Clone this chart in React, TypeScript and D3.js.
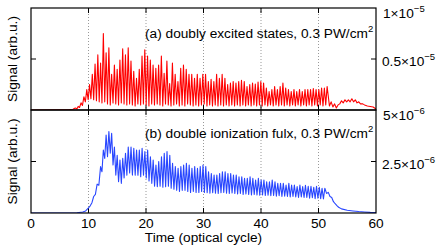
import React from "react";
import * as d3 from "d3";

// values in units of 1e-6 (arb. u.)
const redOnset: [number, number][] = [
  [0, 0], [5, 0.01], [6.5, 0.03], [7.3, 0.08], [7.7, 0.2], [8.0, 0.12], [8.2, 0.35],
  [8.45, 0.25], [8.7, 0.7], [8.95, 0.45], [9.2, 1.3], [9.45, 0.8],
];
const redPeaks = [
  2.0, 2.5, 3.5, 4.5, 5.4, 4.6, 7.5, 5.6, 6.1, 3.5, 4.4, 4.0, 4.9, 6.0, 5.4, 6.1, 4.8, 3.8, 3.1, 4.0,
  5.3, 5.9, 5.3, 4.9, 4.4,
  4.1, 4.4, 5.3, 3.6, 4.8, 2.6, 4.6, 3.5, 2.8, 4.1, 4.4, 4.0, 3.5, 3.5, 3.1, 3.5, 3.1, 3.5, 3.5, 2.8,
  3.0, 2.8, 3.5, 3.1, 3.5, 3.1, 2.5,
  2.65, 2.8, 2.65, 2.8, 2.9, 2.8, 2.3, 2.5, 2.65, 2.55, 2.75, 2.8, 2.65, 2.15, 1.8, 2.0, 2.3, 2.0,
  2.3, 2.65, 2.15, 2.0, 1.8, 2.0, 1.8, 2.0, 1.8,
  2.0, 2.0, 2.0, 2.1, 2.0, 2.0, 2.15, 2.15, 2.3,
];
const redTroughs = [
  1.0, 1.1, 1.0, 0.9, 0.8, 0.7, 0.8, 0.6, 0.5, 0.7, 0.6, 0.5, 0.7, 0.6, 0.5, 0.6, 0.5, 0.4, 0.6, 0.5,
  0.6, 0.5, 0.4, 0.6, 0.5,
  0.6, 0.5, 0.4, 0.6, 0.5, 0.4, 0.5, 0.6, 0.4, 0.5, 0.4, 0.6, 0.5, 0.4, 0.5, 0.4, 0.5, 0.6, 0.4, 0.5,
  0.4, 0.5, 0.4, 0.5, 0.4, 0.5, 0.4,
  0.5, 0.4, 0.5, 0.4, 0.5, 0.4, 0.5, 0.4, 0.5, 0.4, 0.5, 0.4, 0.5, 0.4, 0.5, 0.4, 0.5, 0.4,
  0.5, 0.4, 0.5, 0.4, 0.5, 0.4, 0.5, 0.4, 0.5,
  0.4, 0.5, 0.4, 0.5, 0.4, 0.5, 0.4, 0.5,
];
const redPeakSpan: [number, number] = [9.7, 51.5];
const redTail: [number, number][] = [
  [51.9, 0.4], [52.2, 0.8], [52.5, 0.3], [52.8, 0.6], [53.1, 0.2], [53.4, 0.5], [53.7, 0.6],
  [54.0, 0.9], [54.3, 0.7], [54.6, 1.0], [54.9, 0.8], [55.2, 1.0], [55.5, 0.8], [55.8, 1.1],
  [56.1, 0.8], [56.4, 1.0], [56.7, 0.7], [57.0, 0.8], [57.3, 0.6], [57.7, 0.6], [58.0, 0.5],
  [58.5, 0.4], [59.0, 0.35], [59.5, 0.3], [60, 0.1],
];

const blueOnset: [number, number][] = [
  [0, 0], [8, 0.01], [9, 0.05], [9.5, 0.1], [10, 0.25], [10.3, 0.35], [10.6, 0.5],
  [10.9, 0.8], [11.2, 0.9], [11.5, 1.4], [11.8, 1.35],
];
const bluePeaks = [
  2.25, 3.06, 3.79, 3.95, 3.87, 3.2, 2.8, 2.57, 2.65, 2.9, 3.2, 3.2, 3.14, 3.06, 3.06, 3.14, 2.98,
  3.06, 2.73, 2.57,
  2.33, 2.5, 2.73, 2.9, 2.98, 2.8, 2.41, 2.25, 2.17, 2.25, 2.33, 2.41, 2.33, 2.17, 2.25, 2.17, 2.25,
  2.33, 2.25, 2.0, 1.92, 1.84, 1.84, 1.92, 2.0, 2.0, 1.92,
  1.92, 1.84, 1.84, 1.76, 1.76, 1.68, 1.68, 1.76, 1.68, 1.6, 1.68, 1.6, 1.6, 1.52, 1.52, 1.6, 1.52,
  1.44, 1.44, 1.44, 1.36, 1.44, 1.36, 1.36, 1.28, 1.36, 1.28,
  1.35, 1.3, 1.3, 1.25, 1.3, 1.25, 1.2, 1.2,
];
const blueTroughs = [
  2.0, 2.65, 2.73, 2.9, 2.33, 1.84, 1.52, 1.44, 1.7, 1.84, 1.94, 1.84, 1.84, 1.84, 1.76, 1.84, 1.7,
  1.55, 1.44, 1.3,
  1.28, 1.3, 1.25, 1.28, 1.3, 1.2, 1.15, 1.1, 1.05, 1.1, 1.1, 1.05, 1.0, 1.05, 1.0, 1.0, 1.05, 1.0,
  0.98, 0.96, 0.98, 0.96, 0.95, 0.98, 1.0, 0.96, 0.95,
  0.97, 0.95, 0.93, 0.95, 0.9, 0.92, 0.9, 0.88, 0.9, 0.88, 0.86, 0.88, 0.85, 0.86, 0.84, 0.85, 0.82,
  0.84, 0.8, 0.82, 0.8, 0.78, 0.8, 0.78, 0.76, 0.78, 0.75,
  0.75, 0.72, 0.74, 0.7, 0.72, 0.7, 0.68, 0.7,
];
const bluePeakSpan: [number, number] = [12.1, 51.1];
const blueTail: [number, number][] = [
  [51.4, 0.95], [51.7, 1.0], [52.0, 0.8], [52.3, 0.75], [52.6, 0.55], [52.9, 0.45], [53.2, 0.36],
  [53.5, 0.28], [54.0, 0.2], [55.0, 0.13], [56.0, 0.1], [57.0, 0.07], [58.0, 0.05], [59.0, 0.03],
  [60, 0.02],
];

const xTicks = [0, 10, 20, 30, 40, 50, 60];
const gridTicks = [10, 20, 30, 40, 50];

function buildSeries(
  onset: [number, number][],
  peaks: number[],
  troughs: number[],
  span: [number, number],
  tail: [number, number][]
): [number, number][] {
  const tx = d3.scaleLinear().domain([0, peaks.length - 1]).range(span);
  const half = (span[1] - span[0]) / (peaks.length - 1) / 2;
  const pts: [number, number][] = [...onset];
  peaks.forEach((p, i) => {
    pts.push([tx(i), p]);
    if (i < peaks.length - 1) pts.push([tx(i) + half, troughs[i]]);
  });
  return [...pts, ...tail];
}

const FONT = "'Liberation Sans', Arial, Helvetica, sans-serif";
const FS = 13.7;

export default function App() {
  const left = 31, right = 376, top1 = 8, mid = 110, bot = 213;
  const x = d3.scaleLinear().domain([0, 60]).range([left, right]);
  const yTop = d3.scaleLinear().domain([0, 10]).range([mid, top1]);
  const yBot = d3.scaleLinear().domain([0, 5]).range([bot, mid]);

  const red = buildSeries(redOnset, redPeaks, redTroughs, redPeakSpan, redTail);
  const blue = buildSeries(blueOnset, bluePeaks, blueTroughs, bluePeakSpan, blueTail);
  const lineTop = d3.line<[number, number]>().x((d) => x(d[0])).y((d) => yTop(d[1]));
  const lineBot = d3.line<[number, number]>().x((d) => x(d[0])).y((d) => yBot(d[1]));

  const sup = (base: string, exp: string) => (
    <>
      {base}
      <tspan dy={-6} fontSize={9.5}>{exp}</tspan>
    </>
  );

  const panels = [
    { y0: top1, y1: mid },
    { y0: mid, y1: bot },
  ];

  return (
    <svg width={436} height={251} style={{ position: "absolute", left: 0, top: 0 }} fontFamily={FONT}>
      <defs>
        <clipPath id="c1"><rect x={left} y={top1} width={right - left} height={mid - top1} /></clipPath>
        <clipPath id="c2"><rect x={left} y={mid} width={right - left} height={bot - mid} /></clipPath>
      </defs>
      {panels.map((p, k) => (
        <g key={k}>
          {gridTicks.map((t) => (
            <g key={t}>
              <line x1={x(t)} x2={x(t)} y1={p.y0} y2={p.y1} stroke="#999" strokeWidth={1} strokeDasharray="1,2" />
              <line x1={x(t)} x2={x(t)} y1={p.y0} y2={p.y0 + 5} stroke="#000" />
              <line x1={x(t)} x2={x(t)} y1={p.y1} y2={p.y1 - 5} stroke="#000" />
            </g>
          ))}
        </g>
      ))}
      <path d={lineTop(red) ?? ""} fill="none" stroke="#ff0000" strokeWidth={1.1} clipPath="url(#c1)" strokeLinejoin="round" />
      <path d={lineBot(blue) ?? ""} fill="none" stroke="#2846ff" strokeWidth={1.1} clipPath="url(#c2)" strokeLinejoin="round" />

      {/* y ticks */}
      {[yTop(5), yBot(2.5)].map((yy, i) => (
        <g key={i}>
          <line x1={left} x2={left + 5} y1={yy} y2={yy} stroke="#000" />
          <line x1={right} x2={right - 5} y1={yy} y2={yy} stroke="#000" />
        </g>
      ))}

      {/* frames */}
      <rect x={left} y={top1} width={right - left} height={mid - top1} fill="none" stroke="#000" strokeWidth={1.2} />
      <rect x={left} y={mid} width={right - left} height={bot - mid} fill="none" stroke="#000" strokeWidth={1.2} />

      {/* panel titles */}
      <text x={145} y={38} fontSize={FS}>
        (a) doubly excited states, 0.3 PW/cm<tspan dy={-6} fontSize={9.5}>2</tspan>
      </text>
      <text x={145} y={138} fontSize={FS}>
        (b) double ionization fulx, 0.3 PW/cm<tspan dy={-6} fontSize={9.5}>2</tspan>
      </text>

      {/* right axis labels */}
      <text x={383} y={yTop(10) + 10} fontSize={FS}>{sup("1×10", "−5")}</text>
      <text x={382} y={yTop(5) + 7} fontSize={FS}>{sup("0.5×10", "−5")}</text>
      <text x={383} y={yBot(5) + 10} fontSize={FS}>{sup("5×10", "−6")}</text>
      <text x={382} y={yBot(2.5) + 7} fontSize={FS}>{sup("2.5×10", "−6")}</text>

      {/* x tick labels */}
      {xTicks.map((t) => (
        <text key={t} x={x(t)} y={228} fontSize={FS} textAnchor="middle">{t}</text>
      ))}
      <text x={(left + right) / 2} y={242} fontSize={FS} textAnchor="middle">Time (optical cycle)</text>

      {/* y labels */}
      <text transform={`translate(17,${(top1 + mid) / 2}) rotate(-90)`} fontSize={FS} textAnchor="middle">Signal (arb.u.)</text>
      <text transform={`translate(17,${(mid + bot) / 2}) rotate(-90)`} fontSize={FS} textAnchor="middle">Signal (arb.u.)</text>
    </svg>
  );
}
